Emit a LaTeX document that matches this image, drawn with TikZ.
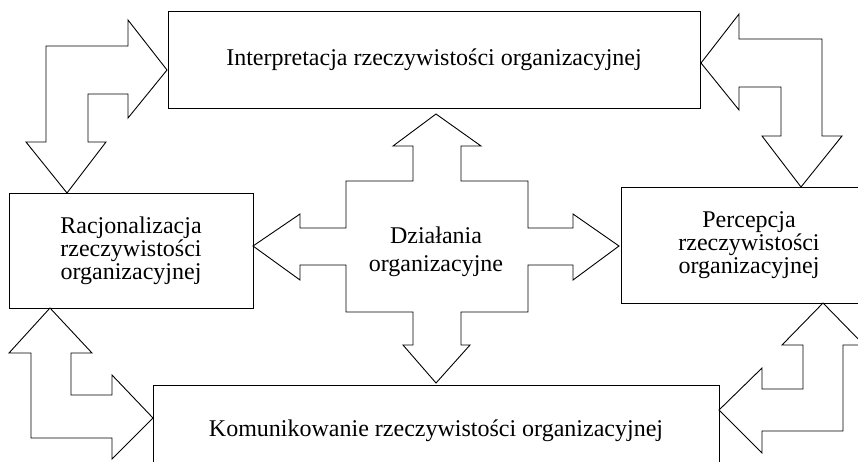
\documentclass[tikz,border=0pt]{standalone}
\usepackage{fontspec}
\setmainfont{Liberation Serif}
\begin{document}
\begin{tikzpicture}[x=1pt, y=-1pt, line join=miter,
    box/.style={draw, line width=0.9pt, inner sep=0pt, align=center,
      font=\fontsize{24}{23}\selectfont},
    blockarrow/.style={draw, line width=0.9pt}]
    \useasboundingbox (0,0) rectangle (858,461);
    \clip (0,0) rectangle (858,461);
    % Prostokąty
    \node[box, minimum width=532pt, minimum height=97pt] (interp) at (434,59.5)
      {Interpretacja rzeczywistości organizacyjnej};
    \node[box, minimum width=244pt, minimum height=115pt] (racj) at (131,250.5)
      {Racjonalizacja\\rzeczywistości\\organizacyjnej};
    \node[box, minimum width=256pt, minimum height=116pt] (perc) at (749,245)
      {Percepcja\\rzeczywistości\\organizacyjnej};
    \node[box, minimum width=566pt, minimum height=92pt] (komun) at (436,431)
      {Komunikowanie rzeczywistości organizacyjnej};
    % Krzyż w środku
    \draw[blockarrow] (436,114) -- (481,146) -- (461,146) -- (461,181) -- (528,181)
      -- (528,228) -- (573,228) -- (573,214) -- (619,246) -- (573,280) -- (573,265)
      -- (528,265) -- (528,312) -- (461,312) -- (461,345) -- (470,345) -- (436,383)
      -- (403,345) -- (413,345) -- (413,312) -- (346,312) -- (346,265) -- (300,265)
      -- (300,280) -- (253,246) -- (300,214) -- (300,228) -- (346,228) -- (346,181)
      -- (413,181) -- (413,146) -- (393,146) -- cycle;
    \node[font=\fontsize{24}{28}\selectfont, align=center] (dzial) at (436,252)
      {Działania\\organizacyjne};
    % Strzałka lewa górna
    \draw[blockarrow] (167,70) -- (128,118) -- (128,94) -- (88,94) -- (88,142)
      -- (106,142) -- (67,193) -- (26,142) -- (46,142) -- (46,46) -- (128,46)
      -- (128,20) -- cycle;
    % Strzałka prawa górna
    \draw[blockarrow] (701,63) -- (739,14) -- (739,39) -- (822,39) -- (822,136)
      -- (842,136) -- (801,187) -- (762,136) -- (781,136) -- (781,87) -- (739,87)
      -- (739,110) -- cycle;
    % Strzałka lewa dolna
    \draw[blockarrow] (50,308) -- (92,353) -- (71,353) -- (71,395) -- (112,395)
      -- (112,375) -- (153,418) -- (112,459) -- (112,438) -- (31,438) -- (31,353)
      -- (9,353) -- cycle;
    % Strzałka prawa dolna
    \draw[blockarrow] (823,303) -- (864,345) -- (843,345) -- (843,431) -- (762,431)
      -- (762,453) -- (719,410) -- (762,368) -- (762,389) -- (803,389) -- (803,345)
      -- (782,345) -- cycle;
\end{tikzpicture}
\end{document}
